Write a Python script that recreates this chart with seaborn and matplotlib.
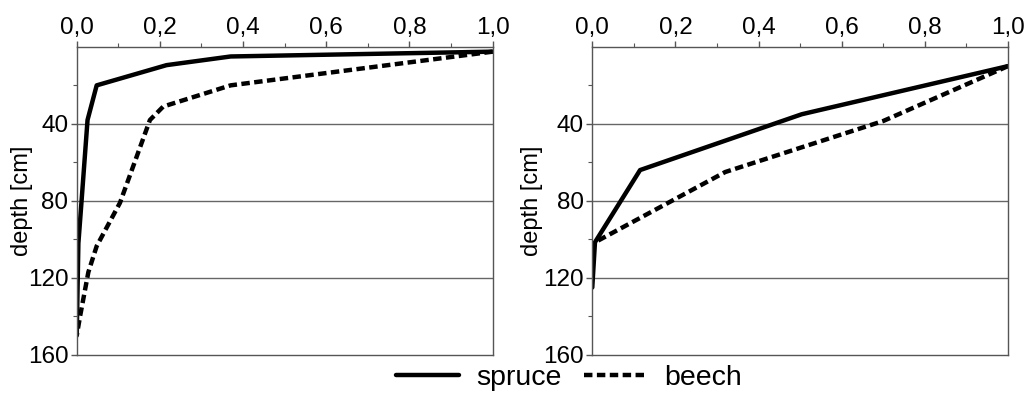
import matplotlib
matplotlib.use("Agg")
import matplotlib.pyplot as plt
import seaborn as sns
import pandas as pd

# ---- data ----
left_spruce_value = [1.0, 0.37, 0.216, 0.048, 0.026, 0.012, 0.004, 0.0]
left_spruce_depth = [2.5, 5.0, 9.5, 20.0, 38.0, 79.0, 102.0, 150.0]
left_beech_value = [1.0, 0.37, 0.208, 0.176, 0.104, 0.048, 0.028, 0.008, 0.0]
left_beech_depth = [2.5, 20.0, 31.0, 38.0, 81.0, 103.5, 117.0, 140.0, 150.0]

right_spruce_value = [1.0, 0.504, 0.115, 0.0065, 0.0]
right_spruce_depth = [10.0, 35.0, 64.0, 101.5, 125.0]
right_beech_value = [1.0, 0.70, 0.32, 0.0065]
right_beech_depth = [10.0, 38.5, 65.0, 101.5]

species = ["spruce", "beech"]
xticks = [0.0, 0.2, 0.4, 0.6, 0.8, 1.0]
xtick_labels = ["0,0", "0,2", "0,4", "0,6", "0,8", "1,0"]
xminor = [0.1, 0.3, 0.5, 0.7, 0.9]
yticks = [40, 80, 120, 160]
ytick_labels = ["40", "80", "120", "160"]
yminor = [20, 60, 100, 140]
ylabel = "depth [cm]"

def frame(sv, sd, bv, bd):
    return pd.DataFrame({
        "value": list(sv) + list(bv),
        "depth": list(sd) + list(bd),
        "species": [species[0]] * len(sv) + [species[1]] * len(bv),
    })

panels = [
    frame(left_spruce_value, left_spruce_depth, left_beech_value, left_beech_depth),
    frame(right_spruce_value, right_spruce_depth, right_beech_value, right_beech_depth),
]

sns.set_theme(style="white")
plt.rcParams["font.family"] = ["Liberation Sans", "DejaVu Sans"]
plt.rcParams["text.color"] = "black"
plt.rcParams["axes.labelcolor"] = "black"
plt.rcParams["xtick.labelcolor"] = "black"
plt.rcParams["ytick.labelcolor"] = "black"

fig = plt.figure(figsize=(10.27, 3.97), dpi=100)
positions = [
    [0.0747, 0.106, 0.405, 0.776],
    [0.5767, 0.106, 0.4048, 0.776],
]
label_x = [-0.104, -0.119]
dash_map = {"spruce": "", "beech": (1.9, 1.0)}
spine_col = "#555555"

handles = None
for df, pos, lx in zip(panels, positions, label_x):
    ax = fig.add_axes(pos)
    sns.lineplot(data=df, x="value", y="depth", style="species",
                 dashes=dash_map, color="black", linewidth=3.2,
                 sort=False, estimator=None, ax=ax, legend=True)
    h, l = ax.get_legend_handles_labels()
    if handles is None:
        handles = [(hh, ll) for hh, ll in zip(h, l) if ll in species]
    if ax.get_legend() is not None:
        ax.get_legend().remove()
    ax.set_xlim(0, 1.0)
    ax.set_ylim(160, 0)
    ax.xaxis.tick_top()
    ax.set_xticks(xticks)
    ax.set_xticklabels(xtick_labels)
    ax.set_xticks(xminor, minor=True)
    ax.set_yticks(yticks)
    ax.set_yticklabels(ytick_labels)
    ax.set_yticks(yminor, minor=True)
    ax.set_xlabel("")
    ax.set_ylabel(ylabel, fontsize=17, color="black")
    ax.yaxis.set_label_coords(lx, 0.5)
    ax.tick_params(axis="both", which="major", direction="out", length=4,
                   width=1, color=spine_col, labelsize=17.5, pad=2,
                   labelcolor="black", top=True, bottom=False, left=True)
    ax.tick_params(axis="both", which="minor", direction="out", length=3,
                   width=0.8, color=spine_col, top=True, bottom=False, left=True)
    ax.grid(False)
    for yv in yticks[:-1]:
        ax.axhline(yv, color="#666666", linewidth=1.0, zorder=0)
    for s in ax.spines.values():
        s.set_visible(True)
        s.set_color(spine_col)
        s.set_linewidth(1.0)

hs = [h for h, _ in handles]
ls = [l for _, l in handles]
fig.legend(hs, ls, loc="center", bbox_to_anchor=(0.554, 0.048), ncol=2,
           frameon=False, fontsize=20.5, handlelength=2.2, handletextpad=0.6,
           columnspacing=0.8, borderaxespad=0, borderpad=0, labelcolor="black")

fig.savefig("out.png", dpi=100)
